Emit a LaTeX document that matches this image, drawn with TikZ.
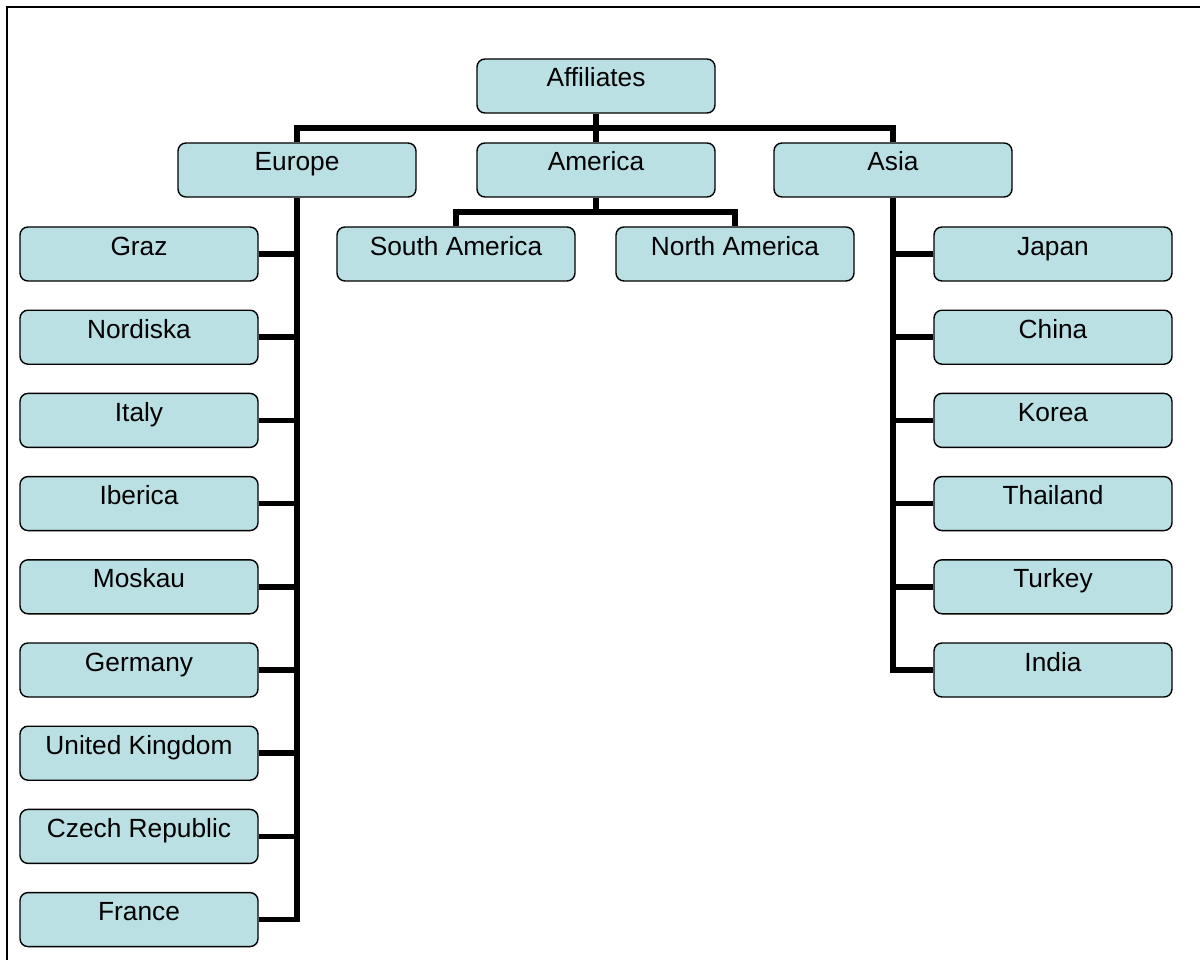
\documentclass[tikz,border=0pt]{standalone}
\usepackage{fontspec}
\setmainfont{Liberation Sans}
\definecolor{boxfill}{RGB}{186,224,228}
\begin{document}
\begin{tikzpicture}[x=1pt,y=-1pt,
  orgbox/.style={draw=black, line width=1.4pt, fill=boxfill, rounded corners=8pt,
    minimum width=238pt, inner xsep=0pt, inner ysep=0pt,
    text height=28pt, text depth=26pt,
    font=\fontsize{26.3}{30}\selectfont},
  wire/.style={line width=5.5pt, line join=miter}]
\useasboundingbox (0,0) rectangle (1200,960);
% frame
\draw[line width=2pt] (7,960) -- (7,7) -- (1200,7);

% top levels
\node[orgbox] (aff) at (596,86) {Affiliates};
\node[orgbox] (europe) at (297,170) {Europe};
\node[orgbox] (america) at (596,170) {America};
\node[orgbox] (asia) at (893,170) {Asia};
\node[orgbox] (sam) at (456,254) {South America};
\node[orgbox] (nam) at (735,254) {North America};

% Europe branch
\foreach \n/\t [count=\i from 0] in {graz/Graz,nord/Nordiska,italy/Italy,iber/Iberica,mosk/Moskau,germ/Germany,uk/United Kingdom,czech/Czech Republic,france/France}
  \node[orgbox] (\n) at (139,254+83.2*\i) {\t};

% Asia branch
\foreach \n/\t [count=\i from 0] in {japan/Japan,china/China,korea/Korea,thai/Thailand,turkey/Turkey,india/India}
  \node[orgbox] (\n) at (1053,254+83.2*\i) {\t};

% connectors
\coordinate (bus) at (596,128);
\coordinate (ambus) at (596,212);
\draw[wire] (aff.south) -- (america.north);
\draw[wire] (europe.north) |- (bus) -| (asia.north);
\draw[wire] (america.south) -- (ambus);
\draw[wire] (sam.north) |- (ambus) -| (nam.north);

\draw[wire] (europe.south) |- (france.east);
\foreach \n in {graz,nord,italy,iber,mosk,germ,uk,czech}
  \draw[wire] (\n.east) -- (\n.east -| europe.south);

\draw[wire] (asia.south) |- (india.west);
\foreach \n in {japan,china,korea,thai,turkey}
  \draw[wire] (\n.west) -- (\n.west -| asia.south);
\end{tikzpicture}
\end{document}
